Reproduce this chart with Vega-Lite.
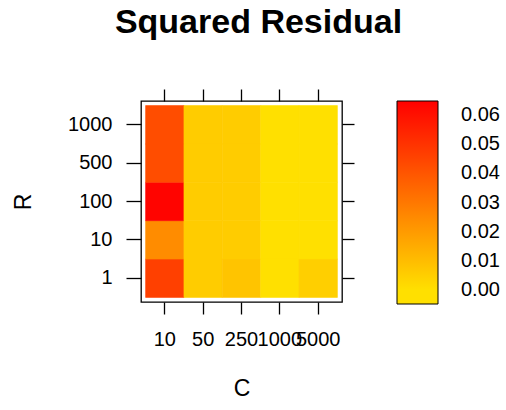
{
  "$schema": "https://vega.github.io/schema/vega-lite/v6.json",
  "width": 201,
  "height": 201,
  "autosize": {"type": "none"},
  "padding": {"left": 141, "top": 101, "right": 164, "bottom": 108},
  "background": "white",
  "title": {
    "text": "Squared Residual",
    "fontSize": 34,
    "font": "Liberation Sans",
    "fontWeight": "bold",
    "color": "black",
    "anchor": "middle",
    "baseline": "alphabetic",
    "offset": 21,
    "dx": 17
  },
  "data": {
    "values": [
      {"C": "10", "R": "1", "value": 0.0463},
      {"C": "10", "R": "10", "value": 0.0243},
      {"C": "10", "R": "100", "value": 0.0635},
      {"C": "10", "R": "500", "value": 0.0425},
      {"C": "10", "R": "1000", "value": 0.0425},
      {"C": "50", "R": "1", "value": 0.0058},
      {"C": "50", "R": "10", "value": 0.0058},
      {"C": "50", "R": "100", "value": 0.0058},
      {"C": "50", "R": "500", "value": 0.0058},
      {"C": "50", "R": "1000", "value": 0.0058},
      {"C": "250", "R": "1", "value": 0.0081},
      {"C": "250", "R": "10", "value": 0.0058},
      {"C": "250", "R": "100", "value": 0.0058},
      {"C": "250", "R": "500", "value": 0.0058},
      {"C": "250", "R": "1000", "value": 0.0058},
      {"C": "1000", "R": "1", "value": 0.0},
      {"C": "1000", "R": "10", "value": 0.0},
      {"C": "1000", "R": "100", "value": 0.0},
      {"C": "1000", "R": "500", "value": 0.0},
      {"C": "1000", "R": "1000", "value": 0.0},
      {"C": "5000", "R": "1", "value": 0.005},
      {"C": "5000", "R": "10", "value": 0.0},
      {"C": "5000", "R": "100", "value": 0.0},
      {"C": "5000", "R": "500", "value": 0.0},
      {"C": "5000", "R": "1000", "value": 0.0}
    ]
  },
  "layer": [
    {
      "mark": {"type": "rect", "strokeWidth": 0.6, "stroke": {"expr": "scale('color', datum.value)"}},
      "encoding": {
        "x": {
          "field": "C", "type": "ordinal",
          "sort": ["10", "50", "250", "1000", "5000"],
          "scale": {"paddingInner": 0, "paddingOuter": 0.12},
          "axis": {
            "orient": "bottom", "title": "C", "titlePadding": 28,
            "tickSize": 12, "labelPadding": 15, "labelAngle": 0
          }
        },
        "y": {
          "field": "R", "type": "ordinal",
          "sort": ["1000", "500", "100", "10", "1"],
          "scale": {"paddingInner": 0, "paddingOuter": 0.12},
          "axis": {
            "orient": "left", "title": "R", "titlePadding": 32,
            "tickSize": 15, "labelPadding": 14
          }
        },
        "color": {
          "field": "value", "type": "quantitative",
          "scale": {
            "domain": [-0.0047, 0, 0.0648],
            "range": ["#FFE000", "#FFE000", "#FF0000"],
            "interpolate": "hsl",
            "nice": false,
            "zero": false
          },
          "legend": {
            "type": "gradient",
            "title": null,
            "orient": "right",
            "direction": "vertical",
            "values": [0, 0.01, 0.02, 0.03, 0.04, 0.05, 0.06],
            "format": ".2f",
            "gradientLength": 203,
            "gradientThickness": 41,
            "gradientStrokeColor": "black",
            "gradientStrokeWidth": 1,
            "labelOffset": 23,
            "labelFontSize": 20,
            "labelFont": "Liberation Sans",
            "labelColor": "black",
            "labelOverlap": false,
            "offset": 42,
            "padding": 0
          }
        }
      }
    },
    {
      "mark": {"type": "rect", "opacity": 0},
      "encoding": {
        "x": {
          "field": "C", "type": "ordinal",
          "sort": ["10", "50", "250", "1000", "5000"],
          "axis": {"orient": "top", "title": null, "labels": false, "tickSize": 12}
        },
        "y": {
          "field": "R", "type": "ordinal",
          "sort": ["1000", "500", "100", "10", "1"],
          "axis": {"orient": "right", "title": null, "labels": false, "tickSize": 12}
        }
      }
    }
  ],
  "resolve": {"axis": {"x": "independent", "y": "independent"}},
  "config": {
    "view": {"stroke": "black", "strokeWidth": 1.3},
    "axis": {
      "domain": false,
      "grid": false,
      "tickColor": "black",
      "tickWidth": 1.3,
      "labelFont": "Liberation Sans",
      "labelFontSize": 20,
      "labelColor": "black",
      "labelOverlap": false,
      "labelBound": false,
      "labelFlush": false,
      "titleFont": "Liberation Sans",
      "titleFontSize": 23,
      "titleFontWeight": "normal",
      "titleColor": "black"
    }
  }
}
